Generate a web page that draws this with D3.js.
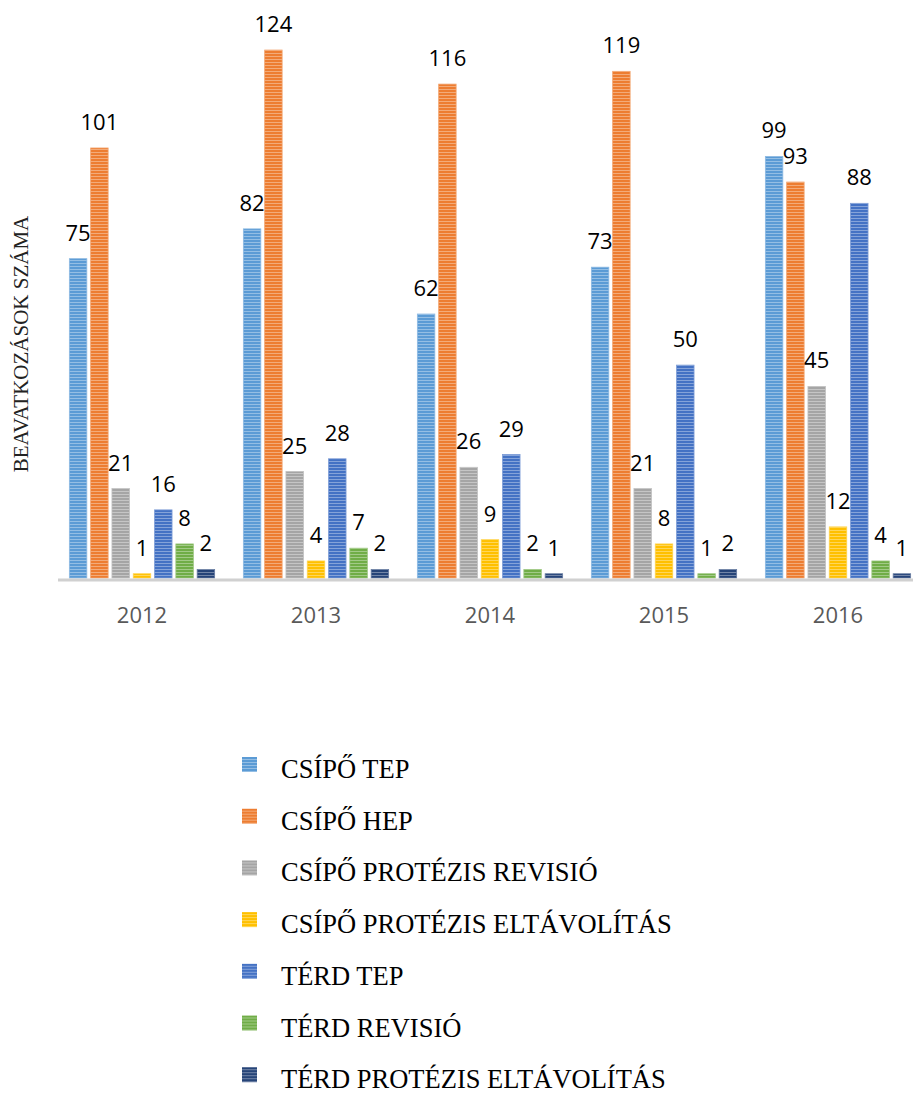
<!DOCTYPE html>
<html>
<head>
<meta charset="utf-8">
<script src="https://cdn.jsdelivr.net/npm/d3@7"></script>
<style>
  body { margin: 0; background: #fff; }
  svg { display: block; }
</style>
</head>
<body>
<div id="chart"></div>
<script>
// data
const years = ["2012", "2013", "2014", "2015", "2016"];
const seriesNames = [
  "CSÍPŐ TEP",
  "CSÍPŐ HEP",
  "CSÍPŐ PROTÉZIS REVISIÓ",
  "CSÍPŐ PROTÉZIS ELTÁVOLÍTÁS",
  "TÉRD TEP",
  "TÉRD REVISIÓ",
  "TÉRD PROTÉZIS ELTÁVOLÍTÁS"
];
const seriesColors = ["#5B9BD5", "#ED7D31", "#A5A5A5", "#FFC000", "#4472C4", "#70AD47", "#264478"];
// one array per series, one value per year
const csipoTep = [75, 82, 62, 73, 99];
const csipoHep = [101, 124, 116, 119, 93];
const csipoRevisio = [21, 25, 26, 21, 45];
const csipoEltavolitas = [1, 4, 9, 8, 12];
const terdTep = [16, 28, 29, 50, 88];
const terdRevisio = [8, 7, 2, 1, 4];
const terdEltavolitas = [2, 2, 1, 2, 1];
const seriesValues = [csipoTep, csipoHep, csipoRevisio, csipoEltavolitas, terdTep, terdRevisio, terdEltavolitas];

const width = 915, height = 1093;

const svg = d3.select("#chart").append("svg")
    .attr("width", width)
    .attr("height", height);

// striped fills, like the office export
const defs = svg.append("defs");
seriesColors.forEach(function (c, i) {
    let pat = defs.append("pattern")
        .attr("id", "stripe" + i)
        .attr("patternUnits", "userSpaceOnUse")
        .attr("width", 6)
        .attr("height", 3);
    pat.append("rect").attr("width", 6).attr("height", 3).attr("fill", c);
    pat.append("rect").attr("y", 2).attr("width", 6).attr("height", 1)
        .attr("fill", d3.interpolateRgb(c, "#fff")(0.35));
});

const x0 = d3.scaleBand()
    .domain(years)
    .range([55, 925])
    .paddingInner(0.165)
    .paddingOuter(0.0825);

const x1 = d3.scaleBand()
    .domain(d3.range(seriesNames.length))
    .range([0, x0.bandwidth()])
    .paddingInner(0.18)
    .paddingOuter(0);

const y = d3.scaleLinear()
    .domain([0, 130])
    .range([578, 24.5]);

// bars
const groups = svg.append("g").selectAll("g")
    .data(years)
    .join("g")
    .attr("transform", function (d) { return "translate(" + x0(d) + ",0)"; });

const cells = groups.selectAll("g.cell")
    .data(function (yr, yi) {
        return seriesValues.map(function (vals, si) { return { s: si, v: vals[yi] }; });
    })
    .join("g")
    .attr("class", "cell");

cells.append("rect")
    .attr("x", function (d) { return x1(d.s); })
    .attr("y", function (d) { return y(d.v); })
    .attr("width", x1.bandwidth())
    .attr("height", function (d) { return y(0) - y(d.v); })
    .attr("fill", function (d) { return "url(#stripe" + d.s + ")"; })
    .attr("stroke", function (d) { return d3.interpolateRgb(seriesColors[d.s], "#fff")(0.3); })
    .attr("stroke-width", 0.8);

cells.append("text")
    .attr("x", function (d) { return x1(d.s) + x1.bandwidth() / 2; })
    .attr("y", function (d) { return y(d.v) - 18; })
    .attr("text-anchor", "middle")
    .attr("font-family", "'Open Sans', sans-serif")
    .attr("font-size", "22px")
    .attr("fill", "#000")
    .text(function (d) { return d.v; });

// category axis
svg.append("line")
    .attr("x1", 58).attr("x2", 913)
    .attr("y1", y(0) + 2).attr("y2", y(0) + 2)
    .attr("stroke", "#d0d0d0")
    .attr("stroke-width", 3);

svg.append("g").selectAll("text")
    .data(years)
    .join("text")
    .attr("x", function (d) { return x0(d) + x0.bandwidth() / 2; })
    .attr("y", 623)
    .attr("text-anchor", "middle")
    .attr("font-family", "'Open Sans', sans-serif")
    .attr("font-size", "22px")
    .attr("fill", "#595959")
    .text(function (d) { return d; });

// y title
svg.append("text")
    .attr("transform", "translate(28,344) rotate(-90)")
    .attr("text-anchor", "middle")
    .attr("font-family", "'Liberation Serif', 'Times New Roman', serif")
    .attr("font-size", "21px")
    .attr("fill", "#222")
    .text("BEAVATKOZÁSOK SZÁMA");

// legend
const legend = svg.append("g").selectAll("g")
    .data(seriesNames)
    .join("g")
    .attr("transform", function (d, i) { return "translate(0," + (778 + i * 51.7) + ")"; });

legend.append("rect")
    .attr("x", 242)
    .attr("y", -21)
    .attr("width", 15)
    .attr("height", 15)
    .attr("fill", function (d, i) { return "url(#stripe" + i + ")"; });

legend.append("text")
    .attr("x", 281)
    .attr("y", 0)
    .attr("font-family", "'Liberation Serif', 'Times New Roman', serif")
    .attr("font-size", "26.5px")
    .attr("fill", "#000")
    .text(function (d) { return d; });
</script>
</body>
</html>
